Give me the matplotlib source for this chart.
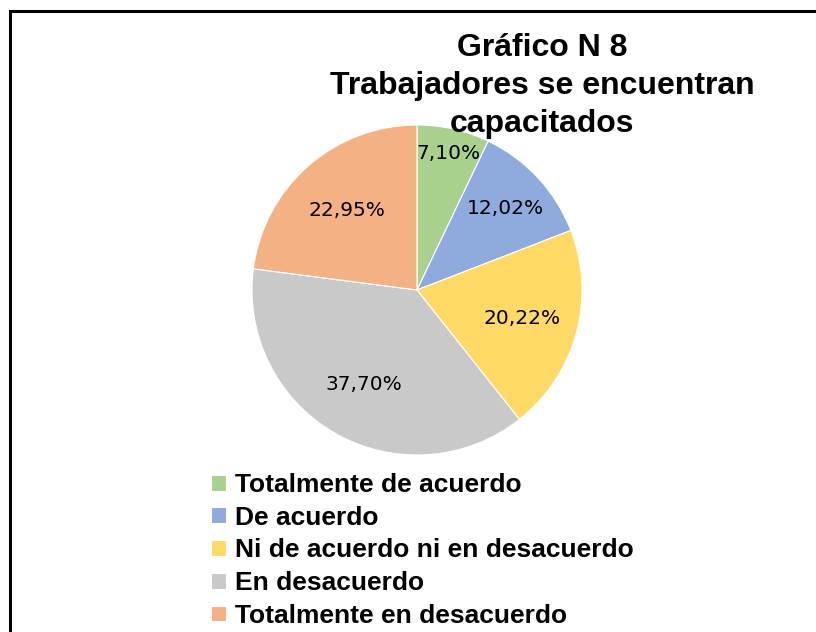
import numpy as np
import matplotlib
matplotlib.use("Agg")
import matplotlib.pyplot as plt
from matplotlib.patches import Rectangle

categorias = ["Totalmente de acuerdo", "De acuerdo", "Ni de acuerdo ni en desacuerdo",
              "En desacuerdo", "Totalmente en desacuerdo"]
porcentajes = [7.10, 12.02, 20.22, 37.70, 22.95]
etiquetas = ["7,10%", "12,02%", "20,22%", "37,70%", "22,95%"]
colores = ["#A9D18E", "#8FAADC", "#FFD966", "#C9C9C9", "#F4B183"]
dist_etiqueta = [0.85, 0.73, 0.66, 0.66, 0.64]

W, H = 816, 632
fig = plt.figure(figsize=(W / 100, H / 100), dpi=100)

# marco del grafico
fig.patches.append(Rectangle((10 / W, -0.1), 1.2, 1 - 11 / H + 0.1, transform=fig.transFigure,
                             fill=False, edgecolor="black", linewidth=2.2))

cx, cy, r = 417, 290, 165
ax = fig.add_axes([(cx - r) / W, (H - cy - r) / H, 2 * r / W, 2 * r / H])
wedges, _ = ax.pie(porcentajes, colors=colores, startangle=90, counterclock=False,
                   wedgeprops=dict(linewidth=0.8, edgecolor="white"))
ax.set_xlim(-1, 1)
ax.set_ylim(-1, 1)
ax.set_aspect("equal")

for w, txt, d in zip(wedges, etiquetas, dist_etiqueta):
    ang = np.deg2rad((w.theta1 + w.theta2) / 2)
    ax.text(d * np.cos(ang), d * np.sin(ang), txt, ha="center", va="center",
            fontsize=14.5, family="DejaVu Sans", color="black")

fig.text(542 / W, 1 - 86 / H, "Gráfico N 8\nTrabajadores se encuentran\ncapacitados",
         ha="center", va="center", fontsize=23, fontweight="bold",
         family="Liberation Sans", linespacing=1.33)

leg = fig.legend(wedges, categorias, loc="upper left", bbox_to_anchor=(211 / W, 1 - 473 / H),
                 frameon=False, handlelength=0.55, handleheight=0.55, handletextpad=0.35,
                 labelspacing=0.33, borderaxespad=0, borderpad=0,
                 prop=dict(family="Liberation Sans", weight="bold", size=19))

fig.savefig("out.png", dpi=100)
